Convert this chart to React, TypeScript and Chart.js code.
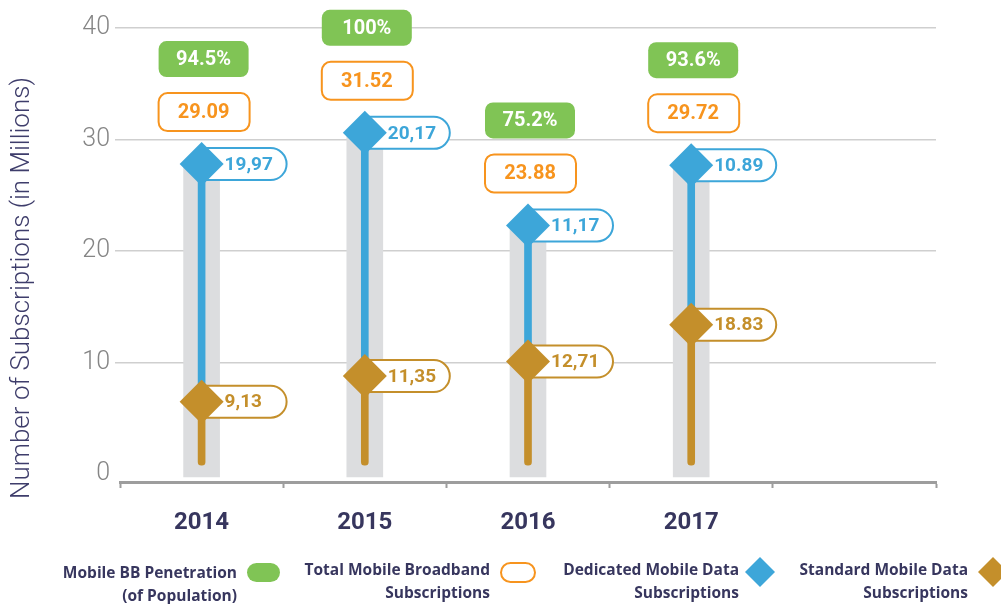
import React, { useEffect, useRef } from "react";
import { Chart, registerables } from "chart.js";

Chart.register(...registerables);

// ---------- data ----------
const years = ["2014", "2015", "2016", "2017", ""];
const penetrationLabels = ["94.5%", "100%", "75.2%", "93.6%"];
const totalLabels = ["29.09", "31.52", "23.88", "29.72"];
const dedicatedLabels = ["19,97", "20,17", "11,17", "10.89"];
const standardLabels = ["9,13", "11,35", "12,71", "18.83"];
// marker levels as drawn in the reference (millions)
const dedicatedLevels = [27.8, 30.6, 22.3, 27.7];
const standardLevels = [6.5, 8.8, 10.1, 13.4];
const stemBase = 0.8;
const bandBase = -0.25;
const yTicks = [0, 10, 20, 30, 40];
const yTitle = "Number of Subscriptions (in Millions)";
const legendTexts = [
  ["Mobile BB Penetration", "(of Population)"],
  ["Total Mobile Broadband", "Subscriptions"],
  ["Dedicated Mobile Data", "Subscriptions"],
  ["Standard Mobile Data", "Subscriptions"],
];

// ---------- styles ----------
const BLUE = "#3DA6D9";
const GOLD = "#C48F2B";
const GREEN = "#80C455";
const ORANGE = "#F7941E";
const BAND = "#DCDDDF";
const GRID = "#CFCFCF";
const AXIS = "#9D9D9D";
const NAVY = "#37365E";
const FONT = "Roboto, 'Noto Sans', sans-serif";
const LEGEND_FONT = "'Open Sans', Roboto, sans-serif";

function rr(ctx: CanvasRenderingContext2D, x: number, y: number, w: number, h: number, r: number) {
  const q = Math.min(r, h / 2, w / 2);
  ctx.beginPath();
  ctx.moveTo(x + q, y);
  ctx.lineTo(x + w - q, y);
  ctx.arcTo(x + w, y, x + w, y + q, q);
  ctx.lineTo(x + w, y + h - q);
  ctx.arcTo(x + w, y + h, x + w - q, y + h, q);
  ctx.lineTo(x + q, y + h);
  ctx.arcTo(x, y + h, x, y + h - q, q);
  ctx.lineTo(x, y + q);
  ctx.arcTo(x, y, x + q, y, q);
  ctx.closePath();
}

function diamond(ctx: CanvasRenderingContext2D, cx: number, cy: number, r: number, color: string) {
  ctx.beginPath();
  ctx.moveTo(cx, cy - r);
  ctx.lineTo(cx + r, cy);
  ctx.lineTo(cx, cy + r);
  ctx.lineTo(cx - r, cy);
  ctx.closePath();
  ctx.fillStyle = color;
  ctx.fill();
}

const annotations = {
  id: "annotations",
  beforeDatasetDraw(chart: any, args: any) {
    if (args.index !== 3) return;
    const ctx: CanvasRenderingContext2D = chart.ctx;
    const blue = chart.getDatasetMeta(3).data;
    const gold = chart.getDatasetMeta(4).data;
    const pill = (pt: any, text: string, color: string) => {
      ctx.save();
      rr(ctx, pt.x - 12, pt.y - 16, 97, 32, 16);
      ctx.fillStyle = "#ffffff";
      ctx.fill();
      ctx.lineWidth = 2;
      ctx.strokeStyle = color;
      ctx.stroke();
      ctx.fillStyle = color;
      ctx.font = `bold 19px ${FONT}`;
      ctx.textAlign = "left";
      ctx.textBaseline = "middle";
      ctx.fillText(text, pt.x + 23, pt.y + 1);
      ctx.restore();
    };
    blue.forEach((pt: any, i: number) => pill(pt, dedicatedLabels[i], BLUE));
    gold.forEach((pt: any, i: number) => pill(pt, standardLabels[i], GOLD));
  },
  afterDatasetsDraw(chart: any) {
    const ctx: CanvasRenderingContext2D = chart.ctx;
    const blue = chart.getDatasetMeta(3).data;
    blue.forEach((pt: any, i: number) => {
      const cx = pt.x + 2;
      const oy = pt.y - 52;
      const gy = oy - 53;
      ctx.save();
      // green penetration box
      rr(ctx, cx - 45, gy - 18, 90, 36, 8);
      ctx.fillStyle = GREEN;
      ctx.fill();
      ctx.fillStyle = "#ffffff";
      ctx.font = `bold 20px ${FONT}`;
      ctx.textAlign = "center";
      ctx.textBaseline = "middle";
      ctx.fillText(penetrationLabels[i], cx, gy + 1);
      // orange total box
      rr(ctx, cx - 45, oy - 19, 91, 38, 9);
      ctx.fillStyle = "#ffffff";
      ctx.fill();
      ctx.lineWidth = 2;
      ctx.strokeStyle = ORANGE;
      ctx.stroke();
      ctx.fillStyle = ORANGE;
      ctx.fillText(totalLabels[i], cx, oy + 1);
      ctx.restore();
    });
  },
  afterDraw(chart: any) {
    const ctx: CanvasRenderingContext2D = chart.ctx;
    ctx.save();
    // y-axis title
    ctx.translate(22, 288);
    ctx.rotate(-Math.PI / 2);
    ctx.fillStyle = "#3E3D6B";
    ctx.font = `300 26px ${FONT}`;
    ctx.textAlign = "center";
    ctx.textBaseline = "middle";
    ctx.fillText(yTitle, 0, 0);
    ctx.restore();

    // legend
    const rights = [237, 490, 739, 968];
    const tops = [574, 571, 571, 571];
    ctx.save();
    ctx.font = `bold 15.5px ${LEGEND_FONT}`;
    ctx.fillStyle = NAVY;
    ctx.textAlign = "right";
    ctx.textBaseline = "middle";
    legendTexts.forEach((lines, i) => {
      ctx.fillText(lines[0], rights[i], tops[i]);
      ctx.fillText(lines[1], rights[i], tops[i] + 23);
    });
    // swatches
    rr(ctx, 247, 563, 33, 19, 9.5);
    ctx.fillStyle = GREEN;
    ctx.fill();
    rr(ctx, 501, 563, 34, 19, 9.5);
    ctx.fillStyle = "#ffffff";
    ctx.fill();
    ctx.lineWidth = 2;
    ctx.strokeStyle = ORANGE;
    ctx.stroke();
    diamond(ctx, 760, 572, 15, BLUE);
    diamond(ctx, 993, 572, 15, GOLD);
    ctx.restore();
  },
};

export default function App() {
  const ref = useRef<HTMLCanvasElement | null>(null);

  useEffect(() => {
    if (!ref.current) return;
    const chart = new Chart(ref.current, {
      type: "bar",
      data: {
        labels: years,
        datasets: [
          {
            type: "bar",
            label: "band",
            data: dedicatedLevels.map((v) => [bandBase, v]) as any,
            backgroundColor: BAND,
            barThickness: 36,
            grouped: false,
            order: 5,
          } as any,
          {
            type: "bar",
            label: "dedicated stem",
            data: dedicatedLevels.map((v, i) => [standardLevels[i], v]) as any,
            backgroundColor: BLUE,
            barThickness: 7,
            grouped: false,
            order: 4,
          } as any,
          {
            type: "bar",
            label: "standard stem",
            data: standardLevels.map((v) => [stemBase, v]) as any,
            backgroundColor: GOLD,
            barThickness: 7,
            borderRadius: 3.5,
            borderSkipped: false,
            grouped: false,
            order: 3,
          } as any,
          {
            type: "line",
            label: "Dedicated Mobile Data Subscriptions",
            data: dedicatedLevels,
            showLine: false,
            pointStyle: "rectRot",
            pointRadius: 22,
            pointBackgroundColor: BLUE,
            pointBorderColor: BLUE,
            pointBorderWidth: 0,
            order: 2,
          } as any,
          {
            type: "line",
            label: "Standard Mobile Data Subscriptions",
            data: standardLevels,
            showLine: false,
            pointStyle: "rectRot",
            pointRadius: 22,
            pointBackgroundColor: GOLD,
            pointBorderColor: GOLD,
            pointBorderWidth: 0,
            order: 1,
          } as any,
        ],
      },
      options: {
        responsive: false,
        animation: false,
        events: [],
        layout: { padding: { top: 28, right: 65, bottom: 0, left: 0 } },
        plugins: { legend: { display: false }, tooltip: { enabled: false } },
        scales: {
          x: {
            offset: true,
            grid: {
              offset: true,
              drawOnChartArea: false,
              drawTicks: true,
              tickLength: 6,
              tickWidth: 2,
              tickColor: AXIS,
            },
            border: { display: true, color: AXIS, width: 3 },
            ticks: {
              padding: 21,
              color: NAVY,
              font: { family: FONT, size: 24, weight: "bold" },
            },
            afterFit: (s: any) => {
              s.height = 122;
            },
          } as any,
          y: {
            min: -0.7,
            max: 40,
            afterBuildTicks: (s: any) => {
              s.ticks = yTicks.map((v) => ({ value: v }));
            },
            grid: {
              color: (c: any) => (c.tick && c.tick.value === 0 ? "rgba(0,0,0,0)" : GRID),
              lineWidth: 1.5,
              tickLength: 5,
              drawTicks: true,
            },
            border: { display: false },
            ticks: {
              padding: 5,
              color: "#858585",
              font: { family: FONT, size: 25, weight: 300 as any },
            },
            afterFit: (s: any) => {
              s.width = 120;
            },
          } as any,
        },
      },
      plugins: [annotations],
    });
    return () => chart.destroy();
  }, []);

  return (
    <div style={{ position: "absolute", left: 0, top: 0, width: 1001, height: 604, background: "#ffffff" }}>
      <canvas ref={ref} width={1001} height={604} style={{ display: "block" }} />
    </div>
  );
}
